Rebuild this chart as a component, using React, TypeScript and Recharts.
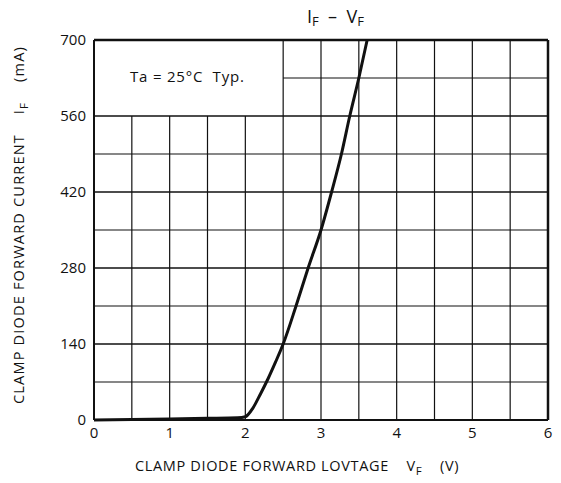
import React from "react";
import { LineChart, Line, XAxis, YAxis, ReferenceLine } from "recharts";

// I_F - V_F clamp diode curve
const VF = [0, 0.5, 1, 1.5, 1.9, 2.0, 2.1, 2.2, 2.3, 2.4, 2.5, 2.67, 2.83, 3.0, 3.14, 3.27, 3.38, 3.5, 3.61];
const IF = [0, 1, 2, 3, 4, 6, 22, 48, 76, 107, 140, 210, 280, 350, 420, 490, 560, 630, 700];

const X_TICKS = [0, 1, 2, 3, 4, 5, 6];
const Y_TICKS = [0, 140, 280, 420, 560, 700];

// grid: verticals every 0.5 V, horizontals every 70 mA
const GRID_X = [0.5, 1, 1.5, 2, 2.5, 3, 3.5, 4, 4.5, 5, 5.5];
const GRID_Y = [70, 140, 210, 280, 350, 420, 490, 560, 630];

// top-left cell holds the note, so grid stops short there
const NOTE_GAP_X = 2.5;
const NOTE_GAP_Y = 560;

const data = VF.map((v, i) => ({ vf: v, current: IF[i] }));

const FONT = "'Open Sans', 'DejaVu Sans', sans-serif";
const INK = "#111";

export default function App() {
  return (
    <div style={{ position: "absolute", left: 0, top: 0, width: 561, height: 483, background: "#fff", fontFamily: FONT }}>
      <LineChart width={561} height={483} data={data} margin={{ top: 40, right: 13, bottom: 33, left: 0 }}>
        <XAxis
          dataKey="vf"
          type="number"
          domain={[0, 6]}
          ticks={X_TICKS}
          height={30}
          tickLine={false}
          tickMargin={1}
          axisLine={{ stroke: INK, strokeWidth: 2 }}
          tick={{ fill: INK, fontSize: 15, fontFamily: FONT }}
        />
        <YAxis
          type="number"
          domain={[0, 700]}
          ticks={Y_TICKS}
          width={94}
          tickLine={false}
          tickMargin={2}
          axisLine={{ stroke: INK, strokeWidth: 2 }}
          tick={{ fill: INK, fontSize: 15, fontFamily: FONT }}
        />
        {GRID_X.map((x) => (
          <ReferenceLine
            key={"gx" + x}
            segment={[{ x, y: 0 }, { x, y: x < NOTE_GAP_X ? NOTE_GAP_Y : 700 }]}
            stroke={INK}
            strokeWidth={1.2}
          />
        ))}
        {GRID_Y.map((y) => (
          <ReferenceLine
            key={"gy" + y}
            segment={[{ x: y > NOTE_GAP_Y ? NOTE_GAP_X : 0, y }, { x: 6, y }]}
            stroke={INK}
            strokeWidth={y % 140 === 0 ? 1.5 : 1.2}
          />
        ))}
        <ReferenceLine y={700} stroke={INK} strokeWidth={2.5} />
        <ReferenceLine x={6} stroke={INK} strokeWidth={2.5} />
        <Line
          dataKey="current"
          type="monotone"
          stroke={INK}
          strokeWidth={3}
          dot={false}
          isAnimationActive={false}
        />
      </LineChart>

      <div style={{ position: "absolute", left: 307, top: 4, fontSize: 18, color: INK, whiteSpace: "pre" }}>
        I<span style={{ fontSize: 13, position: "relative", top: 3 }}>F</span>{"  –  "}V<span style={{ fontSize: 13, position: "relative", top: 3 }}>F</span>
      </div>

      <div style={{ position: "absolute", left: 130, top: 66, fontSize: 15, color: INK, letterSpacing: 0.8, whiteSpace: "pre" }}>
        {"Ta = 25°C  Typ."}
      </div>

      <div style={{ position: "absolute", left: 135, top: 456, fontSize: 14.5, color: INK, letterSpacing: 0.65, whiteSpace: "pre" }}>
        {"CLAMP DIODE FORWARD LOVTAGE    V"}<span style={{ fontSize: 11.5, position: "relative", top: 4 }}>F</span>{"    (V)"}
      </div>

      <div
        style={{
          position: "absolute",
          left: 18,
          top: 225,
          transform: "translate(-50%, -50%) rotate(-90deg)",
          fontSize: 14.5,
          color: INK,
          letterSpacing: 1.2,
          whiteSpace: "pre",
        }}
      >
        {"CLAMP DIODE FORWARD CURRENT    I"}<span style={{ fontSize: 11.5, position: "relative", top: 4 }}>F</span>{"    (mA)"}
      </div>
    </div>
  );
}
